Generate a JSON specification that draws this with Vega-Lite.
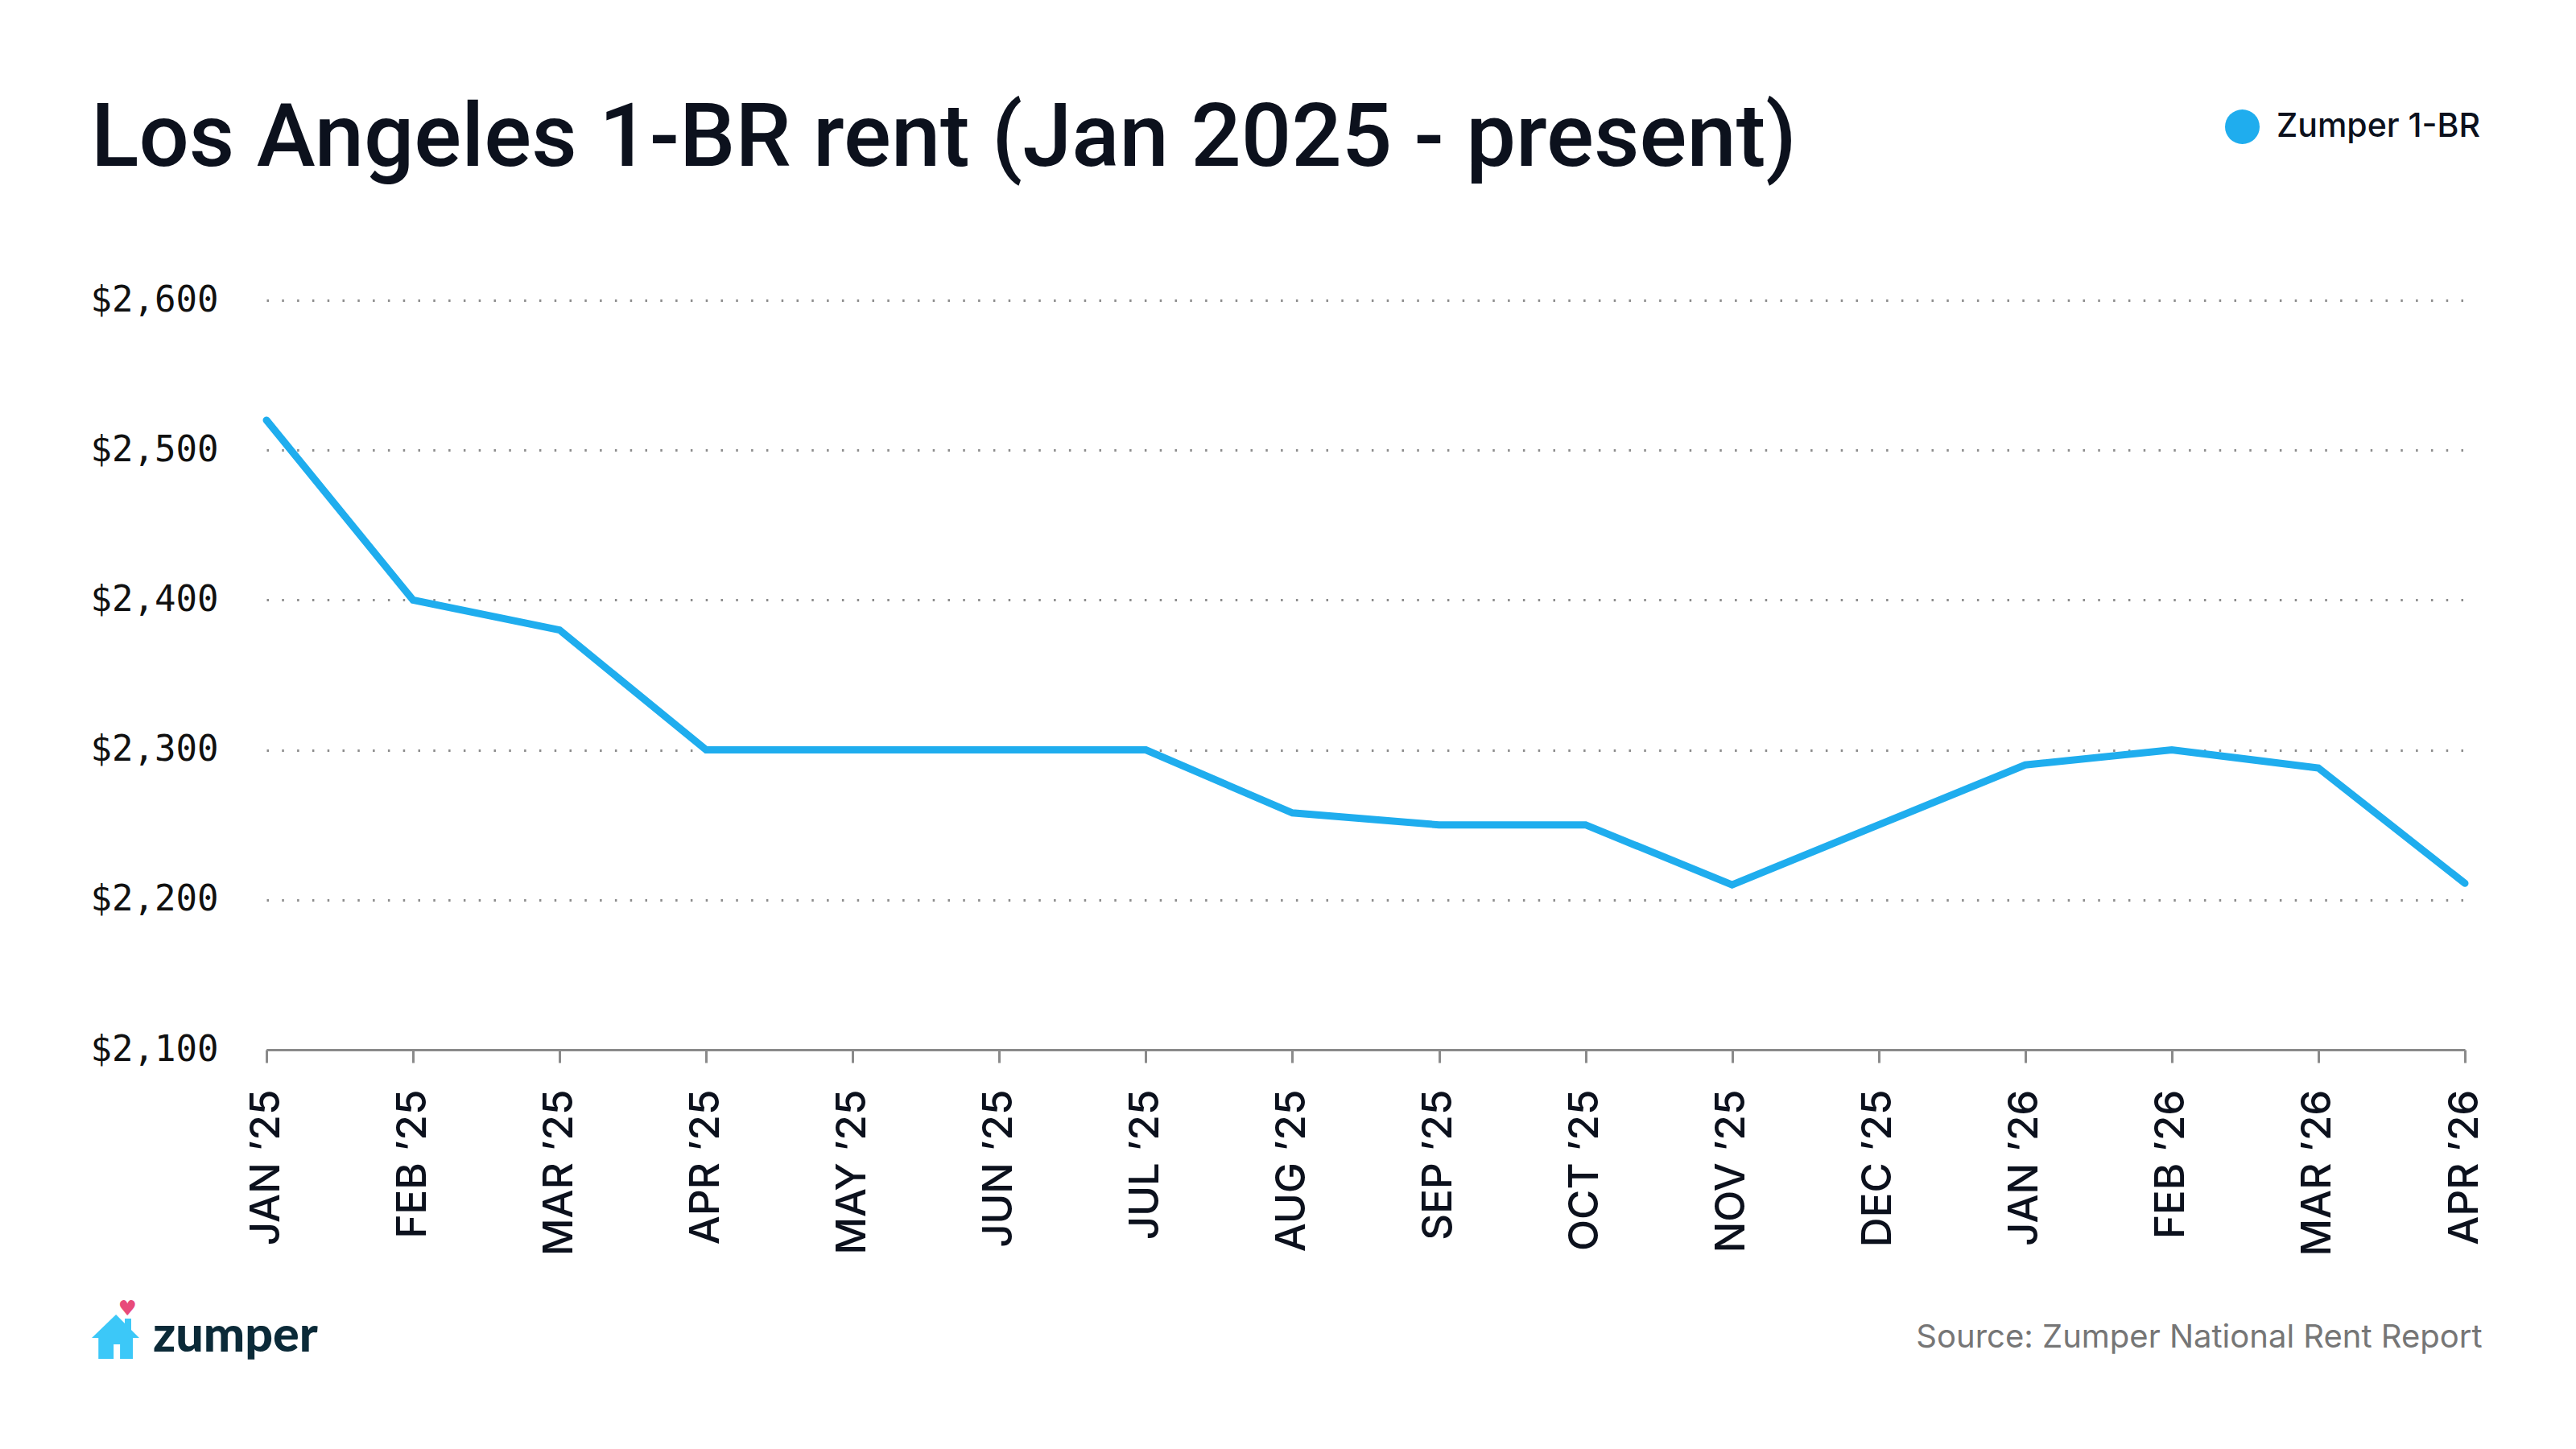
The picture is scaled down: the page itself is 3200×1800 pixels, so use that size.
{
  "$schema": "https://vega.github.io/schema/vega-lite/v6.json",
  "width": 2731,
  "height": 931,
  "autosize": {"type": "none"},
  "padding": {"left": 331, "top": 373, "right": 138, "bottom": 496},
  "background": "#ffffff",
  "config": {"view": {"stroke": null}},
  "title": {
    "text": "Los Angeles 1-BR rent (Jan 2025 - present)",
    "anchor": "start",
    "frame": "group",
    "font": "Roboto",
    "fontSize": 110,
    "fontWeight": 500,
    "color": "#0C111D",
    "dx": -218,
    "offset": 0,
    "dy": 180,
    "baseline": "alphabetic",
    "limit": 0
  },
  "data": {
    "values": [
      {"month": "JAN ’25", "rent": 2520},
      {"month": "FEB ’25", "rent": 2400},
      {"month": "MAR ’25", "rent": 2380},
      {"month": "APR ’25", "rent": 2300},
      {"month": "MAY ’25", "rent": 2300},
      {"month": "JUN ’25", "rent": 2300},
      {"month": "JUL ’25", "rent": 2300},
      {"month": "AUG ’25", "rent": 2258},
      {"month": "SEP ’25", "rent": 2250},
      {"month": "OCT ’25", "rent": 2250},
      {"month": "NOV ’25", "rent": 2210},
      {"month": "DEC ’25", "rent": 2250},
      {"month": "JAN ’26", "rent": 2290},
      {"month": "FEB ’26", "rent": 2300},
      {"month": "MAR ’26", "rent": 2288},
      {"month": "APR ’26", "rent": 2211}
    ]
  },
  "encoding": {
    "x": {
      "field": "month",
      "type": "ordinal",
      "sort": null,
      "scale": {"type": "point", "padding": 0},
      "title": "Source: Zumper National Rent Report",
      "axis": {
        "labelAngle": 270,
        "labelFont": "Inter",
        "labelFontSize": 51,
        "labelFontWeight": 500,
        "labelColor": "#0C111D",
        "labelPadding": 33,
        "labelLimit": 0,
        "tickSize": 16,
        "tickWidth": 3,
        "tickColor": "#8a8a8a",
        "domainColor": "#8a8a8a",
        "domainWidth": 3,
        "grid": false,
        "titleFont": "Inter",
        "titleFontSize": 40,
        "titleFontWeight": 400,
        "titleColor": "#767676",
        "titleAlign": "right",
        "titleBaseline": "alphabetic",
        "titleX": 2752,
        "titleY": 369,
        "titleLimit": 0
      }
    },
    "y": {
      "field": "rent",
      "type": "quantitative",
      "scale": {"domain": [2100, 2600], "nice": false, "zero": false},
      "title": "♥",
      "axis": {
        "values": [2100, 2200, 2300, 2400, 2500, 2600],
        "format": "$,.0f",
        "domain": false,
        "ticks": false,
        "grid": true,
        "gridColor": "#8c8c8c",
        "gridWidth": 3,
        "gridDash": [2.5, 16.3],
        "labelFont": "DejaVu Sans Mono",
        "labelFontSize": 44,
        "labelColor": "#111111",
        "labelPadding": 60,
        "labelBaseline": "middle",
        "labelLimit": 0,
        "titleFont": "DejaVu Sans",
        "titleFontSize": 26,
        "titleFontWeight": 400,
        "titleColor": "#E84A7A",
        "titleAngle": 0,
        "titleAlign": "center",
        "titleBaseline": "middle",
        "titleX": -173,
        "titleY": 1252
      }
    }
  },
  "layer": [
    {
      "mark": {"type": "line", "strokeWidth": 9, "strokeCap": "round"},
      "encoding": {
        "color": {
          "datum": "Zumper 1-BR",
          "scale": {"range": ["#1FADEE"]},
          "legend": {
            "title": null,
            "orient": "none",
            "legendX": 2433,
            "legendY": -237,
            "padding": 0,
            "symbolType": "circle",
            "symbolSize": 1849,
            "symbolFillColor": "#1FADEE",
            "symbolStrokeWidth": 0,
            "labelFont": "Inter",
            "labelFontSize": 41,
            "labelFontWeight": 500,
            "labelColor": "#0C111D",
            "labelOffset": 21,
            "labelLimit": 0,
            "encode": {
              "symbols": {
                "update": {
                  "fill": {"value": "#1FADEE"},
                  "stroke": {"value": "transparent"},
                  "shape": {"value": "circle"}
                }
              }
            }
          }
        }
      }
    },
    {
      "mark": {"type": "point", "opacity": 0, "filled": true, "color": "#3CC8F8"},
      "encoding": {
        "shape": {
          "datum": "zumper",
          "scale": {"range": ["M0.02,-0.93 L0.39,-0.56 L0.39,-0.76 L0.66,-0.76 L0.66,-0.29 L1,0.05 L0.73,0.05 L0.73,0.93 L0.19,0.93 L0.19,0.32 L-0.08,0.32 L-0.08,0.93 L-0.72,0.93 L-0.72,0.05 L-1,0.05 Z"]},
          "legend": {
            "title": null,
            "orient": "none",
            "legendX": -218,
            "legendY": 1257,
            "padding": 0,
            "symbolSize": 3481,
            "symbolFillColor": "#3CC8F8",
            "symbolStrokeWidth": 0,
            "symbolOpacity": 1,
            "labelFont": "Lato",
            "labelFontSize": 61,
            "labelFontWeight": 900,
            "labelColor": "#0B2A38",
            "labelOffset": 16,
            "labelLimit": 0,
            "encode": {
              "symbols": {
                "update": {
                  "fill": {"value": "#3CC8F8"},
                  "opacity": {"value": 1},
                  "stroke": {"value": "transparent"}
                }
              }
            }
          }
        }
      }
    }
  ]
}
